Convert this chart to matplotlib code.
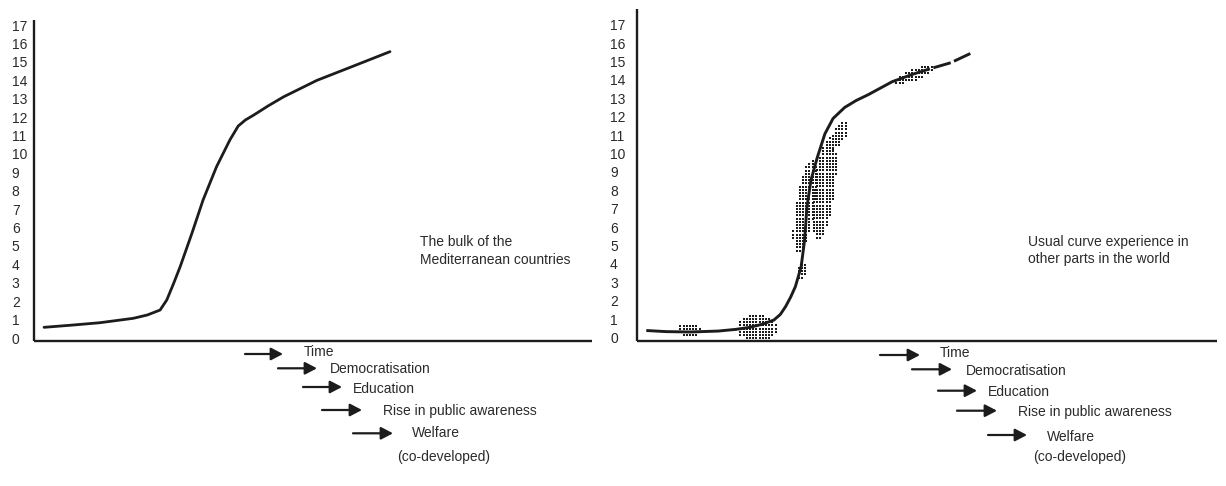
import numpy as np
import matplotlib
matplotlib.use("Agg")
import matplotlib.pyplot as plt

plt.rcParams['font.family'] = ['Liberation Sans', 'DejaVu Sans']
plt.rcParams['lines.scale_dashes'] = False

# ---------------- data ----------------
y_ticks = list(range(0, 18))
y_tick_labels = [str(v) for v in y_ticks]

# Left panel: bulk of the Mediterranean countries (time in arbitrary units 0-100)
left_t = [1.8, 6.8, 11.8, 17.8, 20.3, 22.6, 23.8, 25.0, 26.2, 28.3, 30.3, 32.7,
          35.1, 36.6, 37.9, 39.3, 42.0, 44.7, 50.7, 56.6, 63.8]
left_v = [0.58, 0.70, 0.83, 1.07, 1.25, 1.52, 2.07, 2.95, 3.88, 5.69, 7.5, 9.3,
          10.76, 11.52, 11.85, 12.1, 12.62, 13.1, 14.0, 14.7, 15.56]

# Right panel: usual curve elsewhere (solid part)
right_t = [1.6, 5.0, 9.2, 14.0, 17.0, 19.4, 21.6, 23.6, 24.7, 25.6, 26.5, 27.3,
           28.3, 28.9, 29.3, 30.0, 31.1, 32.4, 33.8, 35.8, 37.8, 39.9, 44.0, 47.5, 50.5]
right_v = [0.38, 0.32, 0.30, 0.35, 0.44, 0.55, 0.72, 0.95, 1.25, 1.67, 2.2, 2.76,
           3.85, 5.3, 7.1, 8.56, 9.8, 11.07, 11.9, 12.5, 12.88, 13.2, 13.9, 14.3, 14.6]
# Right panel: projected (dashed) continuation
right_dash_t = [50.5, 54.1, 57.6]
right_dash_v = [14.6, 14.93, 15.45]

# stippled areas on the right curve: (t, v, half-length px, half-width px, angle deg)
blobs = [
    (9.05, 0.41, 12, 7, 0),
    (20.7, 0.52, 20, 13.5, 0),
    (28.4, 3.6, 9, 5, 78),
    (29.0, 7.1, 47, 9.5, 81),
    (32.3, 8.1, 52, 10.5, 83),
    (34.9, 11.0, 16, 6, 62),
    (47.9, 14.3, 21, 5.5, 22),
]

driver_labels = ["Time", "Democratisation", "Education",
                 "Rise in public awareness", "Welfare"]
note_label = "(co-developed)"
left_caption = "The bulk of the\nMediterranean countries"
right_caption = "Usual curve experience in\nother parts in the world"

# ---------------- figure ----------------
W, H = 1226, 486
fig = plt.figure(figsize=(W / 100, H / 100), dpi=100)
INK = '#1c1c1c'
TXT = '#2a2a2a'

def px_rect(x0, x1, ytop, ybot):
    return [x0 / W, (H - ybot) / H, (x1 - x0) / W, (ybot - ytop) / H]

axL = fig.add_axes(px_rect(34, 592, 20, 341))
axR = fig.add_axes(px_rect(637, 1217, 9, 341))

for ax, ylim, pad in [(axL, (-0.163, 17.28), 16.0), (axR, (-0.19, 17.85), 19.4)]:
    ax.set_xlim(0, 100)
    ax.set_ylim(*ylim)
    for s in ['top', 'right']:
        ax.spines[s].set_visible(False)
    for s in ['left', 'bottom']:
        ax.spines[s].set_linewidth(1.7)
        ax.spines[s].set_color(INK)
        ax.spines[s].set_capstyle('butt')
    ax.set_xticks([])
    ax.set_yticks(y_ticks)
    ax.set_yticklabels(y_tick_labels)
    ax.tick_params(axis='y', length=0, pad=pad, labelsize=10, labelcolor=TXT)
    for lab in ax.get_yticklabels():
        lab.set_horizontalalignment('left')
    ax.patch.set_alpha(0)

axL.plot(left_t, left_v, color=INK, lw=2.0, solid_capstyle='round', solid_joinstyle='round')
axR.plot(right_t, right_v, color=INK, lw=2.1, solid_capstyle='butt', solid_joinstyle='round')
axR.plot(right_dash_t, right_dash_v, color=INK, lw=2.1, linestyle=(13, (13, 2.6)),
         dash_capstyle='butt')

# stipple dots
fig.canvas.draw()
inv = axR.transData.inverted()
for (t, v, a, b, ang) in blobs:
    cx, cy = axR.transData.transform((t, v))
    th = np.deg2rad(ang)
    R = max(a, b) + 3
    gx = np.arange(np.floor(cx - R), cx + R, 3.2)
    gy = np.arange(np.floor(cy - R), cy + R, 3.2)
    X, Y = np.meshgrid(gx, gy)
    dx, dy = X - cx, Y - cy
    u = dx * np.cos(th) + dy * np.sin(th)
    w = -dx * np.sin(th) + dy * np.cos(th)
    m = (u / a) ** 2 + (w / b) ** 2 <= 1.0
    pts = inv.transform(np.column_stack([X[m], Y[m]]))
    axR.scatter(pts[:, 0], pts[:, 1], s=0.9, marker='s', color=INK, linewidths=0, zorder=1)

# captions
fig.text(420 / W, (H - 251) / H, left_caption, fontsize=10, color=TXT,
         ha='left', va='center', linespacing=1.35)
fig.text(1028 / W, (H - 250.5) / H, right_caption, fontsize=10, color=TXT,
         ha='left', va='center', linespacing=1.35)

# driver arrows and labels (pixel layout per panel)
arrow_layout = {
    'left': dict(arrows=[(245, 283, 354), (278, 317, 368.3), (303, 342, 387),
                         (322, 362, 410), (353, 393, 433.3)],
                 texts=[(304, 352), (330, 368.5), (353.3, 389.3), (382.7, 410.7), (411.7, 433.3)],
                 note=(396.7, 456.5)),
    'right': dict(arrows=[(880, 920, 355), (912, 952, 369.3), (938, 977, 390.7),
                          (957, 997, 410.7), (988, 1027, 435)],
                  texts=[(940, 352.7), (966, 370.7), (988.3, 391.7), (1017.7, 411.7), (1046.7, 436.7)],
                  note=(1033.3, 457)),
}
for side, lay in arrow_layout.items():
    for (x1, x2, y), (tx, ty), lab in zip(lay['arrows'], lay['texts'], driver_labels):
        axL.annotate('', xy=(x2, H - y), xytext=(x1, H - y), xycoords='figure pixels',
                     textcoords='figure pixels', annotation_clip=False,
                     arrowprops=dict(arrowstyle='-|>,head_length=0.42,head_width=0.22',
                                     mutation_scale=17, lw=1.6, color=INK,
                                     shrinkA=0, shrinkB=0))
        fig.text(tx / W, (H - ty) / H, lab, fontsize=10, color=TXT, ha='left', va='center')
    nx, ny = lay['note']
    fig.text(nx / W, (H - ny) / H, note_label, fontsize=10, color=TXT, ha='left', va='center')

fig.savefig('out.png', dpi=100)
